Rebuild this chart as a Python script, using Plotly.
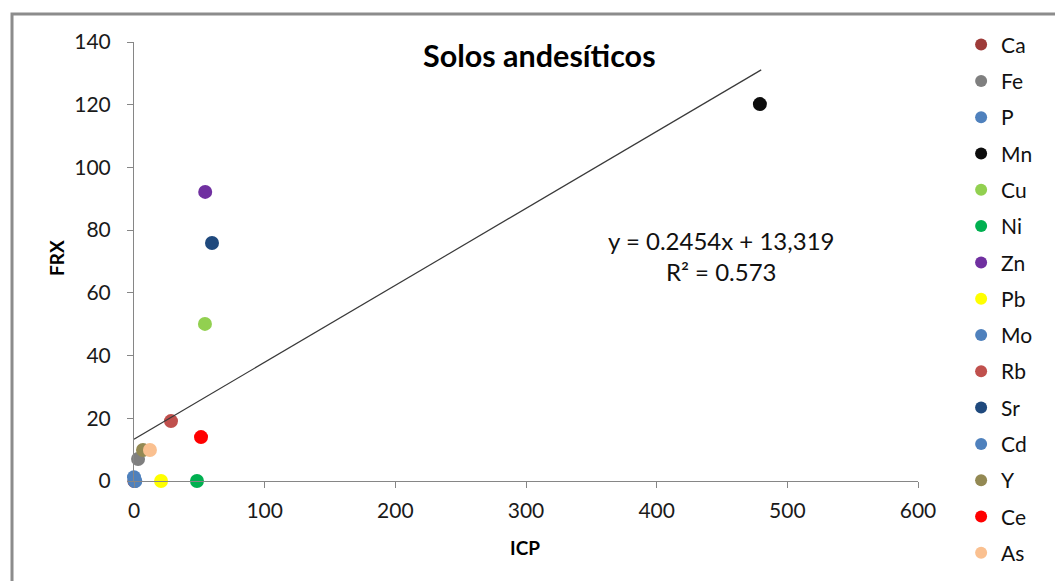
import plotly.graph_objects as go

elements = ["Ca", "Fe", "P", "Mn", "Cu", "Ni", "Zn", "Pb", "Mo", "Rb", "Sr", "Cd", "Y", "Ce", "As"]
icp = [0.3, 3.1, 0.5, 479, 54.3, 48.2, 54.5, 20.7, 0.0, 28.3, 59.7, 1.0, 6.9, 51.3, 12.2]
frx = [0.0, 7.0, 0.0, 120.2, 50.1, 0.0, 92.2, 0.0, 1.2, 19.1, 75.9, 0.0, 9.9, 14.0, 9.9]
colors = ["#9E3B39", "#7F7F7F", "#4F81BD", "#0D0D0D", "#92D050", "#00B050", "#7030A0",
          "#FFFF00", "#4F81BD", "#C0504D", "#1F497D", "#4F81BD", "#938953", "#FF0000", "#FAC090"]

slope = 0.2454
intercept = 13.319
trend_x = [0, 480]
trend_y = [slope * v + intercept for v in trend_x]

FONT = "Lato, Carlito, Calibri, sans-serif"

fig = go.Figure()
for name, xv, yv, c in zip(elements, icp, frx, colors):
    fig.add_trace(go.Scatter(x=[xv], y=[yv], mode="markers", name=name,
                             legendgroup=name, cliponaxis=False,
                             marker=dict(color=c, size=14, line=dict(width=0))))

fig.add_trace(go.Scatter(x=trend_x, y=trend_y, mode="lines", showlegend=False,
                         line=dict(color="#3A3A3A", width=1.2), hoverinfo="skip"))

fig.update_layout(
    width=1055, height=581,
    margin=dict(l=134, r=137, t=42, b=100),
    paper_bgcolor="white", plot_bgcolor="white",
    font=dict(family=FONT, size=20, color="#1a1a1a"),
    showlegend=True,
    legend=dict(x=1.055, y=1.04, xanchor="left", yanchor="top",
                font=dict(size=21, family=FONT, color="#111"),
                tracegroupgap=6, itemsizing="constant", bgcolor="rgba(0,0,0,0)",
                maxheight=1.0),
    xaxis=dict(range=[0, 600], tickvals=[0, 100, 200, 300, 400, 500, 600],
               showgrid=False, zeroline=False, showline=True, linecolor="#868686",
               linewidth=1, ticks="outside", ticklen=6, tickcolor="#868686",
               ticklabelstandoff=5,
               tickfont=dict(size=21, family=FONT, color="#1a1a1a")),
    yaxis=dict(range=[0, 140], tickvals=[0, 20, 40, 60, 80, 100, 120, 140],
               showgrid=False, zeroline=False, showline=True, linecolor="#868686",
               linewidth=1, ticks="outside", ticklen=6, tickcolor="#868686",
               ticklabelstandoff=12,
               tickfont=dict(size=21, family=FONT, color="#1a1a1a")),
    shapes=[dict(type="rect", xref="paper", yref="paper",
                 x0=-0.1556, x1=1.2, y0=-0.3, y1=1.0638,
                 line=dict(color="#8C8C8C", width=3), fillcolor="rgba(0,0,0,0)",
                 layer="below")],
    annotations=[
        dict(text="<b>Solos andesíticos</b>", xref="paper", yref="paper",
             x=0.5166, y=0.970, xanchor="center", yanchor="middle", showarrow=False,
             font=dict(size=30.5, family=FONT, color="#000")),
        dict(text="y = 0.2454x + 13,319<br>R² = 0.573", xref="x", yref="y",
             x=449, y=71.7, xanchor="center", yanchor="middle", showarrow=False, align="center",
             font=dict(size=24, family=FONT, color="#111")),
        dict(text="<b>ICP</b>", xref="paper", yref="paper", x=0.4987, y=-0.1526,
             xanchor="center", yanchor="middle",
             showarrow=False, font=dict(size=19, family=FONT, color="#000")),
        dict(text="<b>FRX</b>", xref="paper", yref="paper", x=-0.0982, y=0.508,
             xanchor="center", yanchor="middle",
             showarrow=False, textangle=-90, font=dict(size=19, family=FONT, color="#000")),
    ],
)

fig.write_html("out.html")
